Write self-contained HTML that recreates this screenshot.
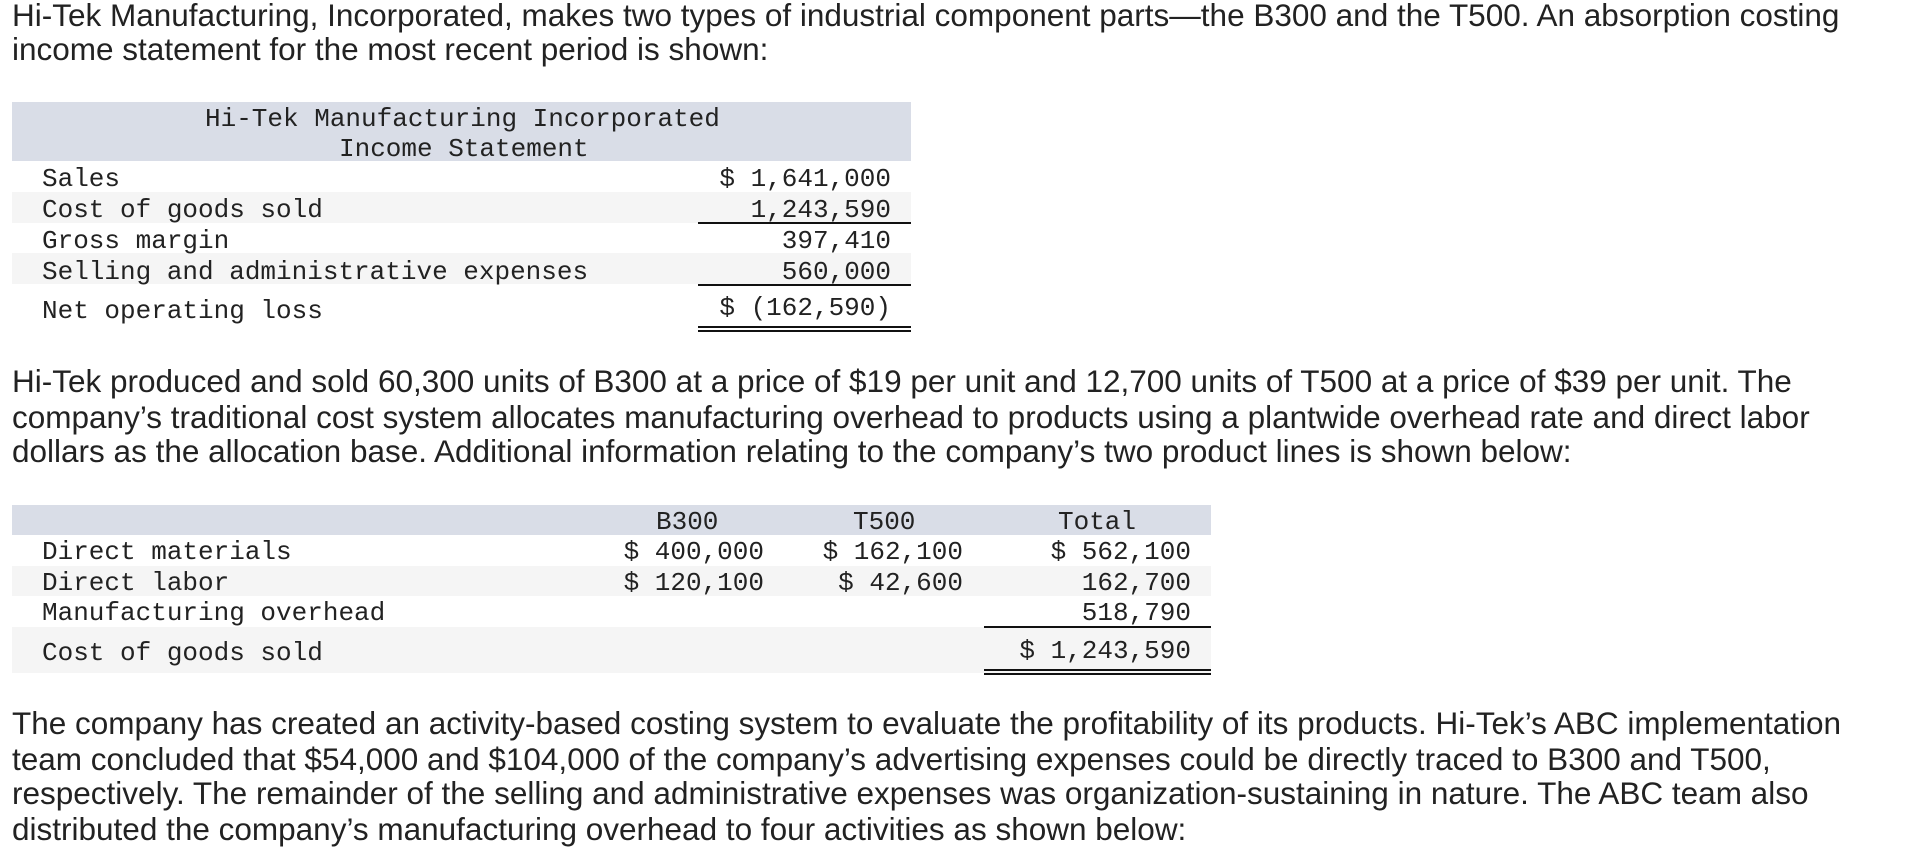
<!DOCTYPE html>
<html><head><meta charset="utf-8">
<style>
body{margin:0;width:1928px;height:868px;background:#fff;position:relative;overflow:hidden;color:#222;}
.p{position:absolute;left:12px;font-family:"Liberation Sans",sans-serif;font-size:31.5px;white-space:nowrap;line-height:34px;}
.m{position:absolute;font-family:"Liberation Mono",monospace;font-size:26px;white-space:pre;line-height:30px;}
.band{position:absolute;}
.r{text-align:right;}
.ul{position:absolute;height:2px;background:#111;}
</style></head><body>
<div class="p" style="top:-2px">Hi-Tek Manufacturing, Incorporated, makes two types of industrial component parts—the B300 and the T500. An absorption costing</div>
<div class="p" style="top:32px">income statement for the most recent period is shown:</div>

<div>
<div class="band" style="left:12px;top:102px;width:899px;height:59px;background:#d9dde7"></div>
<div class="m" style="left:12px;width:899px;top:104px;text-align:left;padding-left:193px">Hi-Tek Manufacturing Incorporated</div>
<div class="m" style="left:339px;top:134px">Income Statement</div>
<div class="band" style="left:12px;top:192px;width:899px;height:31px;background:#f5f5f5"></div>
<div class="band" style="left:12px;top:253px;width:899px;height:31px;background:#f5f5f5"></div>
<div class="m" style="left:42px;top:164px">Sales</div>
<div class="m" style="left:42px;top:195px">Cost of goods sold</div>
<div class="m" style="left:42px;top:226px">Gross margin</div>
<div class="m" style="left:42px;top:257px">Selling and administrative expenses</div>
<div class="m" style="left:42px;top:296px">Net operating loss</div>
<div class="m r" style="left:600px;width:291px;top:164px">$ 1,641,000</div>
<div class="m r" style="left:600px;width:291px;top:195px">1,243,590</div>
<div class="m r" style="left:600px;width:291px;top:226px">397,410</div>
<div class="m r" style="left:600px;width:291px;top:257px">560,000</div>
<div class="m r" style="left:600px;width:291px;top:293px">$ (162,590)</div>
<div class="ul" style="left:698px;top:222px;width:213px"></div>
<div class="ul" style="left:698px;top:284px;width:213px"></div>
<div class="ul" style="left:698px;top:326px;width:213px;height:1.5px"></div>
<div class="ul" style="left:698px;top:330px;width:213px;height:1.5px"></div>
</div>

<div class="p" style="top:364px">Hi-Tek produced and sold 60,300 units of B300 at a price of $19 per unit and 12,700 units of T500 at a price of $39 per unit. The</div>
<div class="p" style="top:400px">company’s traditional cost system allocates manufacturing overhead to products using a plantwide overhead rate and direct labor</div>
<div class="p" style="top:434px">dollars as the allocation base. Additional information relating to the company’s two product lines is shown below:</div>

<div>
<div class="band" style="left:12px;top:505px;width:1199px;height:30px;background:#d9dde7"></div>
<div class="band" style="left:12px;top:566px;width:1199px;height:30px;background:#f5f5f5"></div>
<div class="band" style="left:12px;top:627px;width:1199px;height:46px;background:#f5f5f5"></div>
<div class="m" style="left:656px;top:507px">B300</div>
<div class="m" style="left:853px;top:507px">T500</div>
<div class="m" style="left:1058px;top:507px">Total</div>
<div class="m" style="left:42px;top:537px">Direct materials</div>
<div class="m" style="left:42px;top:568px">Direct labor</div>
<div class="m" style="left:42px;top:598px">Manufacturing overhead</div>
<div class="m" style="left:42px;top:638px">Cost of goods sold</div>
<div class="m r" style="left:564px;width:200px;top:537px">$ 400,000</div>
<div class="m r" style="left:763px;width:200px;top:537px">$ 162,100</div>
<div class="m r" style="left:991px;width:200px;top:537px">$ 562,100</div>
<div class="m r" style="left:564px;width:200px;top:568px">$ 120,100</div>
<div class="m r" style="left:763px;width:200px;top:568px">$ 42,600</div>
<div class="m r" style="left:991px;width:200px;top:568px">162,700</div>
<div class="m r" style="left:991px;width:200px;top:598px">518,790</div>
<div class="m r" style="left:891px;width:300px;top:636px">$ 1,243,590</div>
<div class="ul" style="left:984px;top:626px;width:227px"></div>
<div class="ul" style="left:984px;top:669px;width:227px;height:1.5px"></div>
<div class="ul" style="left:984px;top:673px;width:227px;height:1.5px"></div>
</div>

<div class="p" style="top:706px">The company has created an activity-based costing system to evaluate the profitability of its products. Hi-Tek’s ABC implementation</div>
<div class="p" style="top:742px">team concluded that $54,000 and $104,000 of the company’s advertising expenses could be directly traced to B300 and T500,</div>
<div class="p" style="top:776px">respectively. The remainder of the selling and administrative expenses was organization-sustaining in nature. The ABC team also</div>
<div class="p" style="top:812px">distributed the company’s manufacturing overhead to four activities as shown below:</div>
</body></html>
